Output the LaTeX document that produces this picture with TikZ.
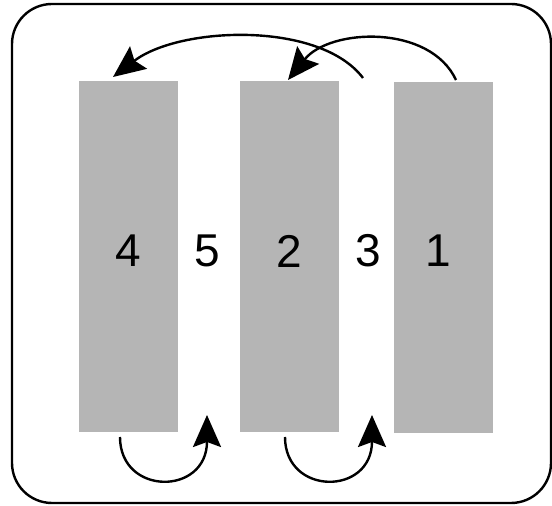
\documentclass[tikz,border=0pt]{standalone}
\usepackage{fontspec}
\setmainfont{Liberation Sans}
\usepackage{tikz}
\usetikzlibrary{arrows.meta}
\tikzset{strip/.style={draw=none, fill=black!29, minimum width=99pt, minimum height=351pt, inner sep=0pt}}
\tikzset{digit/.style={font=\fontsize{46}{46}\selectfont, inner sep=0pt}}
\tikzset{swap/.style={line width=2.4pt, -{Stealth[length=32pt, width=28pt, inset=5pt]}}}
\tikzset{frame/.style={line width=2.4pt, rounded corners=40pt}}

\begin{document}
\begin{tikzpicture}[x=1pt, y=1pt]
            \useasboundingbox (0, 0) rectangle (552, 506);
            \draw[frame] (12, 3) rectangle (551, 502);
            \node[strip] (r4) at (128, 249.5) {};
            \node[strip] (r2) at (289.5, 249) {};
            \node[strip] (r1) at (443.5, 248.5) {};
            \node[digit] (n4) at (r4 |- 0, 255) {4};
            \node[digit] (n5) at (207, 255) {5};
            \node[digit] (n2) at (r2 |- 0, 255) {2};
            \node[digit] (n3) at (368, 255) {3};
            \node[digit] (n1) at (438, 255) {1};
            % moves over the top
            \coordinate (a1) at (363, 428);
            \coordinate (a4) at (113, 429);
            \coordinate (b1) at (456, 426);
            \coordinate (b2) at (288, 426);
            \draw[swap] (a1) .. controls (320, 485) and (180, 480) .. (a4);
            \draw[swap] (b1) .. controls (430, 482) and (330, 478) .. (b2);
            % moves under the bottom
            \coordinate (c4) at (120, 69);
            \coordinate (c5) at (207, 91);
            \coordinate (d2) at (285, 69);
            \coordinate (d3) at (372, 91);
            \draw[swap] (c4) .. controls (120, 10) and (207, 10) .. (c5);
            \draw[swap] (d2) .. controls (285, 10) and (372, 10) .. (d3);
        \end{tikzpicture}
\end{document}
